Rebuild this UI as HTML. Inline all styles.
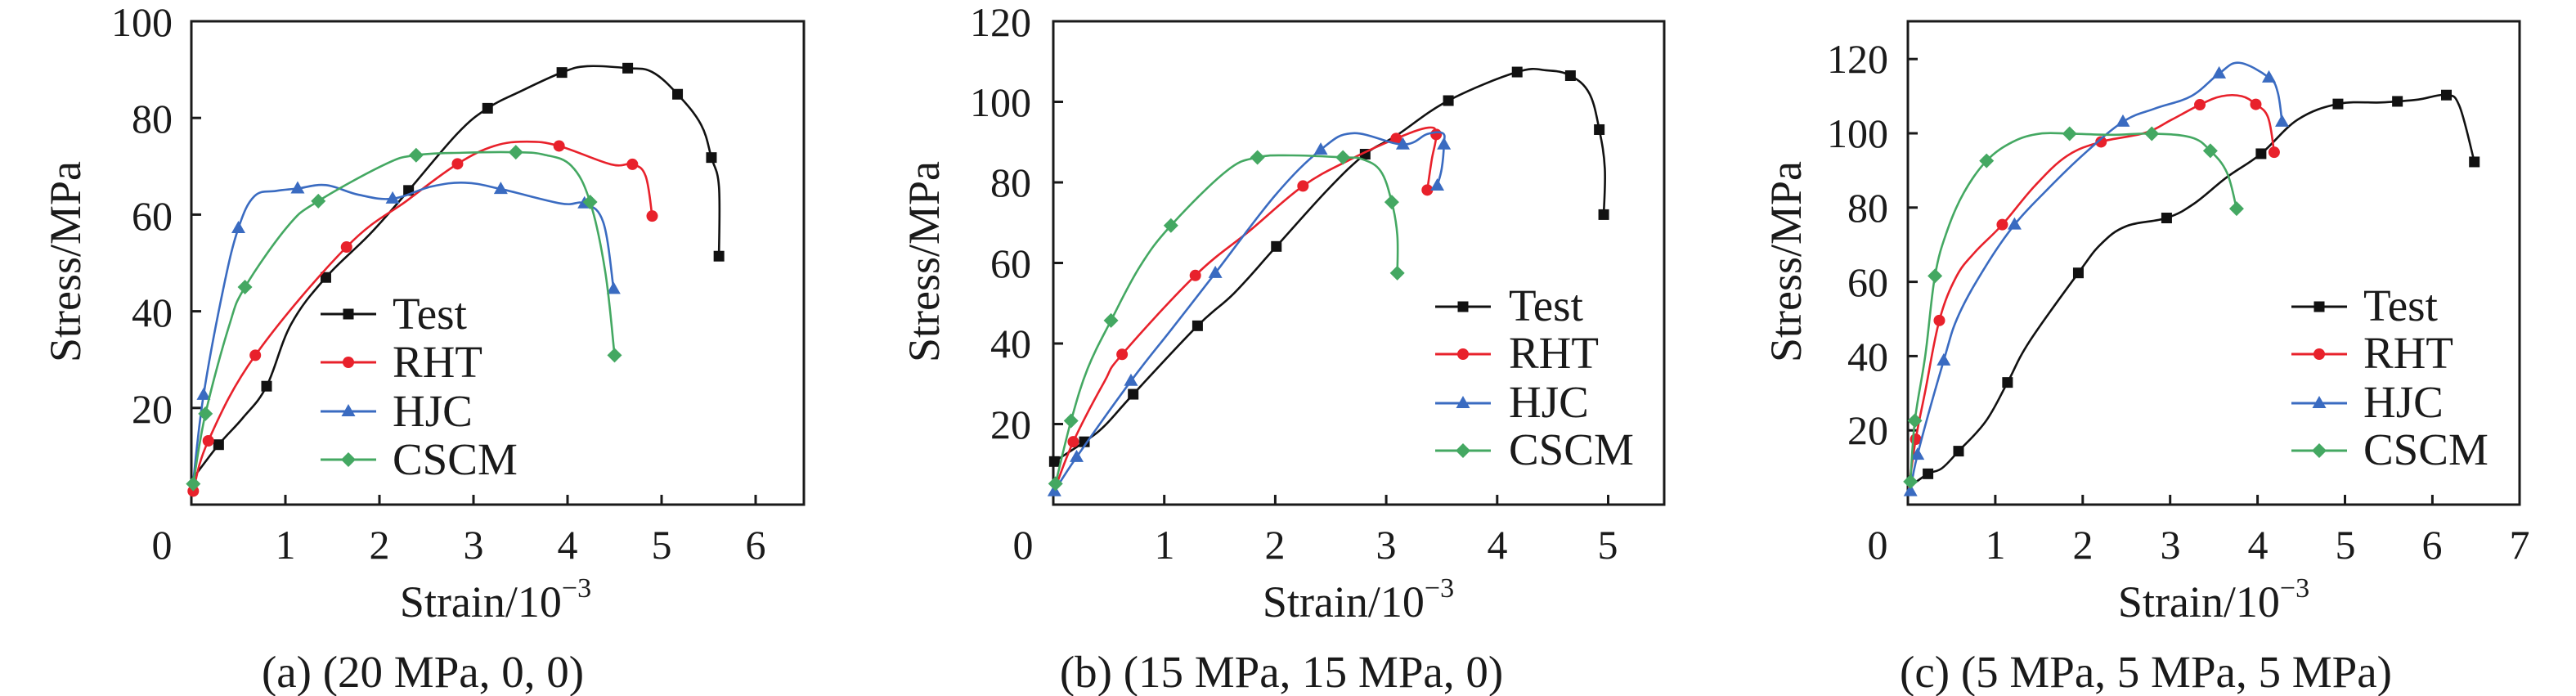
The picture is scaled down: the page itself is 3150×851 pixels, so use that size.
<!DOCTYPE html>
<html><head><meta charset="utf-8"><style>
html,body{margin:0;padding:0;background:#fff;}
svg{display:block;font-family:"Liberation Serif","DejaVu Serif",serif;}
svg text{font-family:"Liberation Serif","DejaVu Serif",serif;fill:#1a1a1a;}
.tk{font-size:50px;}
.tt{font-size:54px;}
.cap{font-size:55px;}
.lg{font-size:55px;}
</style></head><body>
<svg id="s" width="3150" height="851" viewBox="0 0 3150 851" xmlns="http://www.w3.org/2000/svg" font-family="Liberation Serif, DejaVu Serif, serif" style="font-family:'Liberation Serif','DejaVu Serif',serif">
<g font-family="Liberation Serif, serif">
<!-- Panel a text -->
<g class="tk" text-anchor="end">
<text x="211" y="44">100</text><text x="211" y="162">80</text><text x="211" y="281">60</text><text x="211" y="399">40</text><text x="211" y="517">20</text>
</g>
<g class="tk" text-anchor="middle">
<text x="198" y="683">0</text><text x="349" y="683">1</text><text x="464" y="683">2</text><text x="579" y="683">3</text><text x="694" y="683">4</text><text x="809" y="683">5</text><text x="924" y="683">6</text>
</g>
<text class="tt" transform="translate(98,320) rotate(-90)" text-anchor="middle">Stress/MPa</text>
<text class="tt" x="606" y="754" text-anchor="middle">Strain/10<tspan dy="-24" font-size="34">−3</tspan></text>
<text class="cap" x="517" y="840" text-anchor="middle">(a) (20 MPa, 0, 0)</text>
<g class="lg"><text x="480" y="402">Test</text><text x="480" y="461">RHT</text><text x="480" y="521">HJC</text><text x="480" y="580">CSCM</text></g>

<!-- Panel b text -->
<g class="tk" text-anchor="end">
<text x="1261" y="44">120</text><text x="1261" y="142">100</text><text x="1261" y="240">80</text><text x="1261" y="339">60</text><text x="1261" y="437">40</text><text x="1261" y="536">20</text>
</g>
<g class="tk" text-anchor="middle">
<text x="1251" y="683">0</text><text x="1424" y="683">1</text><text x="1559" y="683">2</text><text x="1695" y="683">3</text><text x="1831" y="683">4</text><text x="1966" y="683">5</text>
</g>
<text class="tt" transform="translate(1148,320) rotate(-90)" text-anchor="middle">Stress/MPa</text>
<text class="tt" x="1661" y="754" text-anchor="middle">Strain/10<tspan dy="-24" font-size="34">−3</tspan></text>
<text class="cap" x="1567" y="840" text-anchor="middle">(b) (15 MPa, 15 MPa, 0)</text>
<g class="lg"><text x="1845" y="392">Test</text><text x="1845" y="450">RHT</text><text x="1845" y="510">HJC</text><text x="1845" y="568">CSCM</text></g>

<!-- Panel c text -->
<g class="tk" text-anchor="end">
<text x="2309" y="89">120</text><text x="2309" y="180">100</text><text x="2309" y="271">80</text><text x="2309" y="362">60</text><text x="2309" y="453">40</text><text x="2309" y="543">20</text>
</g>
<g class="tk" text-anchor="middle">
<text x="2296" y="683">0</text><text x="2440" y="683">1</text><text x="2547" y="683">2</text><text x="2654" y="683">3</text><text x="2761" y="683">4</text><text x="2868" y="683">5</text><text x="2974" y="683">6</text><text x="3081" y="683">7</text>
</g>
<text class="tt" transform="translate(2202,320) rotate(-90)" text-anchor="middle">Stress/MPa</text>
<text class="tt" x="2707" y="754" text-anchor="middle">Strain/10<tspan dy="-24" font-size="34">−3</tspan></text>
<text class="cap" x="2624" y="840" text-anchor="middle">(c) (5 MPa, 5 MPa, 5 MPa)</text>
<g class="lg"><text x="2890" y="392">Test</text><text x="2890" y="450">RHT</text><text x="2890" y="510">HJC</text><text x="2890" y="568">CSCM</text></g>
</g>
<g id="g"></g>
</svg>
<script>
var NS="http://www.w3.org/2000/svg",G=document.getElementById("g");
function el(t,a){var e=document.createElementNS(NS,t);for(var k in a)e.setAttribute(k,a[k]);G.appendChild(e);return e;}
var C={T:"#111",R:"#e8212b",H:"#3a6bc1",S:"#44a862"};
function mk(type,x,y,c){
 if(type=="T")el("rect",{x:x-6.5,y:y-6.5,width:13,height:13,fill:c});
 else if(type=="R")el("circle",{cx:x,cy:y,r:7,fill:c});
 else if(type=="H")el("polygon",{points:(x)+","+(y-9)+" "+(x-8.5)+","+(y+6)+" "+(x+8.5)+","+(y+6),fill:c});
 else el("polygon",{points:(x)+","+(y-9)+" "+(x+9)+","+(y)+" "+(x)+","+(y+9)+" "+(x-9)+","+y,fill:c});
}
function path(P){var d="M"+P[0][0]+","+P[0][1];
 for(var i=0;i<P.length-1;i++){var p0=P[Math.max(0,i-1)],p1=P[i],p2=P[i+1],p3=P[Math.min(P.length-1,i+2)];
  var t=0.18;d+=" C"+(p1[0]+(p2[0]-p0[0])*t)+","+(p1[1]+(p2[1]-p0[1])*t)+" "+(p2[0]-(p3[0]-p1[0])*t)+","+(p2[1]-(p3[1]-p1[1])*t)+" "+p2[0]+","+p2[1];}
 return d;}
function panel(L,R,T,B,x0,sx,sy,xt,yt,series){
 el("rect",{x:L,y:T,width:R-L,height:B-T,fill:"none",stroke:"#1a1a1a","stroke-width":3});
 xt.forEach(function(v){var x=x0+v*sx;el("line",{x1:x,y1:B,x2:x,y2:B-12,stroke:"#1a1a1a","stroke-width":3});});
 yt.forEach(function(v){var y=B-v*sy;el("line",{x1:L,y1:y,x2:L+12,y2:y,stroke:"#1a1a1a","stroke-width":3});});
 for(var k in series){var P=series[k].map(function(p){return [x0+p[0]*sx,B-p[1]*sy,p[2]];});
  el("path",{d:path(P),fill:"none",stroke:C[k],"stroke-width":2.6,"stroke-linejoin":"round"});
  P.forEach(function(p){if(p[2])mk(k,p[0],p[1],C[k]);});}
}
function legend(x1,x2,rows){var ks=["T","R","H","S"];ks.forEach(function(k,i){el("line",{x1:x1,y1:rows[i],x2:x2,y2:rows[i],stroke:C[k],"stroke-width":3});mk(k,(x1+x2)/2,rows[i],C[k]);});}
var m=1,n=0;
panel(234,983,26,617,234,115,5.91,[1,2,3,4,5,6],[20,40,60,80],{
T:[[0,5,n],[0.29,12.4,m],[0.55,18,n],[0.80,24.5,m],[1.06,37.3,n],[1.43,47,m],[1.9,56,n],[2.31,65,m],[2.83,76.8,n],[3.15,82,m],[3.5,85.5,n],[3.94,89.4,m],[4.21,90.7,n],[4.64,90.3,m],[4.9,89.5,n],[5.17,84.9,m],[5.42,78.6,n],[5.53,71.8,m],[5.61,65.8,n],[5.61,51.4,m]],
R:[[0.02,2.8,m],[0.18,13.2,m],[0.68,30.9,m],[1.65,53.3,m],[2.3,63,n],[2.83,70.5,m],[3.22,74.2,n],[3.57,75.1,n],[3.91,74.2,m],[4.46,70.4,n],[4.69,70.4,m],[4.83,68,n],[4.9,59.7,m]],
H:[[0.02,4.8,n],[0.13,22.7,m],[0.34,44.7,n],[0.5,57.2,m],[0.67,63.8,n],[0.9,64.9,n],[1.13,65.4,m],[1.43,66.1,n],[1.78,64.1,n],[2.14,63.3,m],[2.55,65.8,n],[2.91,66.6,n],[3.29,65.3,m],[3.93,62.3,n],[4.18,62.3,m],[4.38,58.4,n],[4.49,44.6,m]],
S:[[0.02,4.3,m],[0.15,18.8,m],[0.4,36.9,n],[0.57,45,m],[1.03,57.7,n],[1.35,62.8,m],[2.06,70.4,n],[2.39,72.3,m],[2.88,72.8,n],[3.45,72.9,m],[3.75,72.4,n],[4.04,70.1,n],[4.24,62.6,m],[4.4,48.3,n],[4.5,30.9,m]]});
legend(392,460,[384,443,503,562]);
panel(1288,2035,26,617,1288,135.7,4.925,[1,2,3,4,5],[20,40,60,80,100],{
T:[[0.01,10.7,m],[0.28,15.6,m],[0.46,19.5,n],[0.72,27.4,m],[1.3,44.4,m],[1.63,52.5,n],[2.01,64.1,m],[2.48,78.4,n],[2.81,87,m],[3.09,91.6,n],[3.56,100.3,m],[4.18,107.4,m],[4.45,107.8,n],[4.66,106.5,m],[4.83,102.1,n],[4.92,93.1,m],[4.97,83.4,n],[4.96,72,m]],
R:[[0.01,3.5,n],[0.18,15.6,m],[0.46,30.5,n],[0.62,37.3,m],[1.28,56.9,m],[1.77,68,n],[2.25,79.1,m],[2.67,85.6,n],[3.09,90.9,m],[3.38,93.6,n],[3.45,91.9,m],[3.41,85.6,n],[3.37,78.1,m]],
H:[[0.01,3.3,m],[0.21,11.8,m],[0.7,30.7,m],[1.07,43.7,n],[1.46,57.5,m],[2.0,76.8,n],[2.41,88.1,m],[2.7,92.2,n],[3.15,89.4,m],[3.37,92,n],[3.51,92.2,n],[3.52,89.4,m],[3.5,83.4,n],[3.46,79.2,m]],
S:[[0.02,5.2,m],[0.16,20.8,m],[0.31,33.8,n],[0.52,45.7,m],[0.78,59.1,n],[1.06,69.3,m],[1.56,82.8,n],[1.84,86.2,m],[2.15,86.7,n],[2.61,86.2,m],[2.78,85.8,n],[2.95,82.8,n],[3.05,75.1,m],[3.1,66.9,n],[3.1,57.5,m]]});
legend(1755,1823,[375,433,493,551]);
panel(2333,3081,26,617,2333,106.9,4.54,[1,2,3,4,5,6],[20,40,60,80,100,120],{
T:[[0.03,5,n],[0.23,8.3,m],[0.39,9.8,n],[0.58,14.4,m],[0.89,22.4,n],[1.14,32.9,m],[1.39,43.9,n],[1.95,62.4,m],[2.21,70.2,n],[2.5,75,n],[2.96,77.2,m],[3.27,81,n],[3.65,88.2,n],[4.04,94.5,m],[4.46,103.7,n],[4.92,107.9,m],[5.4,108.3,n],[5.6,108.6,m],[5.84,109.1,n],[6.16,110.3,m],[6.31,107.3,n],[6.48,92.3,m]],
R:[[0.01,4.4,n],[0.09,17.6,m],[0.2,30.7,n],[0.36,49.6,m],[0.55,61.2,n],[0.76,67.8,n],[1.08,75.4,m],[1.45,85.8,n],[1.82,93.9,n],[2.21,97.7,m],[2.71,100.1,n],[3.02,103.7,n],[3.34,107.7,m],[3.59,110,n],[3.82,110,n],[3.98,107.8,m],[4.12,104.3,n],[4.19,94.9,m]],
H:[[0.03,3.6,m],[0.11,13.4,m],[0.41,38.8,m],[0.58,51,n],[0.89,64.2,n],[1.22,75.4,m],[1.58,84.5,n],[1.99,93.9,n],[2.46,103.1,m],[2.83,106.7,n],[3.24,110,n],[3.56,116.1,m],[3.79,119,n],[4.13,115,m],[4.23,111.1,n],[4.28,103.1,m]],
S:[[0.03,6.2,m],[0.08,22.6,m],[0.2,40.3,n],[0.31,61.6,m],[0.45,73.8,n],[0.64,84,n],[0.9,92.6,m],[1.2,97.7,n],[1.51,99.9,n],[1.85,99.9,m],[2.33,99.6,n],[2.79,99.9,m],[3.24,98.9,n],[3.46,95.3,m],[3.65,89.4,n],[3.76,79.7,m]]});
legend(2802,2870,[375,433,493,551]);
</script>
</body></html>
